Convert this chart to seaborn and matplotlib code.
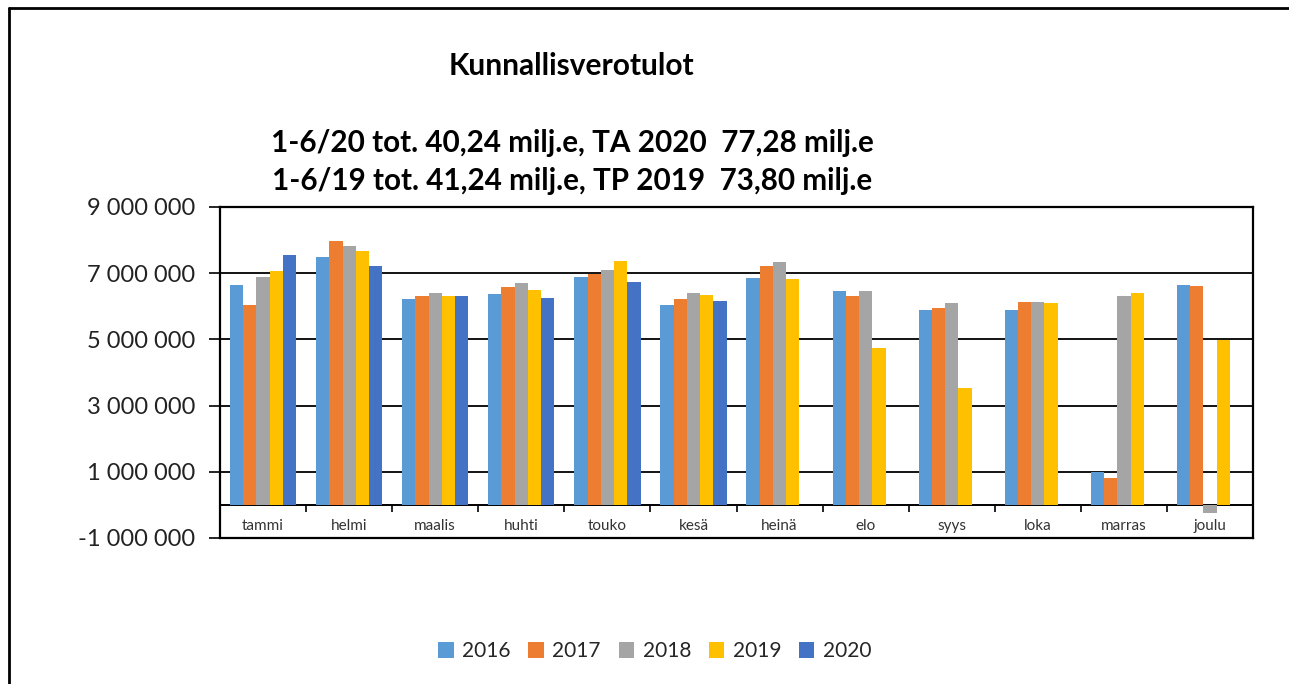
import numpy as np
import pandas as pd
import seaborn as sns
import matplotlib
matplotlib.use("Agg")
import matplotlib.pyplot as plt
from matplotlib.lines import Line2D
from matplotlib.ticker import FuncFormatter

# Monthly municipal tax revenue (euros)
months = ["tammi", "helmi", "maalis", "huhti", "touko", "kesä",
          "heinä", "elo", "syys", "loka", "marras", "joulu"]
years = ["2016", "2017", "2018", "2019", "2020"]

v2016 = [6_650_000, 7_490_000, 6_210_000, 6_360_000, 6_890_000, 6_050_000,
         6_850_000, 6_450_000, 5_900_000, 5_900_000, 980_000, 6_650_000]
v2017 = [6_050_000, 7_970_000, 6_320_000, 6_570_000, 6_980_000, 6_210_000,
         7_210_000, 6_320_000, 5_940_000, 6_130_000, 820_000, 6_610_000]
v2018 = [6_890_000, 7_810_000, 6_400_000, 6_690_000, 7_090_000, 6_400_000,
         7_330_000, 6_450_000, 6_090_000, 6_130_000, 6_320_000, -260_000]
v2019 = [7_070_000, 7_670_000, 6_300_000, 6_490_000, 7_380_000, 6_330_000,
         6_820_000, 4_730_000, 3_530_000, 6_090_000, 6_400_000, 4_970_000]
v2020 = [7_540_000, 7_220_000, 6_320_000, 6_250_000, 6_740_000, 6_170_000,
         np.nan, np.nan, np.nan, np.nan, np.nan, np.nan]

colors = ["#5B9BD5", "#ED7D31", "#A5A5A5", "#FFC000", "#4472C4"]
yticks = [-1_000_000, 1_000_000, 3_000_000, 5_000_000, 7_000_000, 9_000_000]

title = "Kunnallisverotulot"
subtitle1 = "1-6/20 tot. 40,24 milj.e, TA 2020  77,28 milj.e"
subtitle2 = "1-6/19 tot. 41,24 milj.e, TP 2019  73,80 milj.e"

series = dict(zip(years, [v2016, v2017, v2018, v2019, v2020]))
df = pd.DataFrame([
    {"kuukausi": m, "vuosi": y, "tulot": vals[i]}
    for y, vals in series.items() for i, m in enumerate(months)
])

sns.set_theme(style="white")
plt.rcParams["font.family"] = ["Lato", "DejaVu Sans"]

fig = plt.figure(figsize=(12.89, 6.84), dpi=100)
ax = fig.add_axes([0.1707, 0.2135, 0.8014, 0.4839])

sns.barplot(data=df, x="kuukausi", y="tulot", hue="vuosi", order=months,
            hue_order=years, palette=colors, width=0.77, errorbar=None,
            linewidth=0, saturation=1, ax=ax)

leg = ax.get_legend()
handles, labels = ax.get_legend_handles_labels()
if leg is not None:
    leg.remove()

ax.set_ylim(-1_000_000, 9_000_000)
ax.set_xlim(-0.5, len(months) - 0.5)
ax.set_yticks(yticks)
ax.yaxis.set_major_formatter(FuncFormatter(lambda v, _: f"{int(v):,}".replace(",", " ")))
ax.tick_params(axis="y", direction="out", length=8, width=1.2, color="black",
               labelsize=17, labelcolor="#222222", pad=10, left=True)
ax.set_xticks([])
ax.set_xlabel("")
ax.set_ylabel("")
ax.grid(axis="y", color="black", linewidth=1.3)
ax.set_axisbelow(True)
for sp in ax.spines.values():
    sp.set_visible(True)
    sp.set_color("black")
    sp.set_linewidth(1.6)

# Category axis drawn along the zero line
sec = ax.secondary_xaxis(0.1)
sec.set_xticks(range(len(months)), labels=months)
sec.set_xticks(np.arange(0.5, len(months) - 1, 1.0), minor=True)
sec.tick_params(axis="x", which="major", length=0, pad=10, labelsize=11,
                labelcolor="#333333")
sec.tick_params(axis="x", which="minor", direction="out", length=5,
                width=1.2, color="black")
sec.spines["bottom"].set_color("black")
sec.spines["bottom"].set_linewidth(1.4)

fig.text(0.443, 0.904, title, ha="center", va="center",
         fontsize=21.5, fontweight="bold", color="black")
fig.text(0.444, 0.791, subtitle1, ha="center", va="center",
         fontsize=21.3, fontweight="bold", color="black")
fig.text(0.444, 0.735, subtitle2, ha="center", va="center",
         fontsize=21.3, fontweight="bold", color="black")

fig.legend(handles, labels, loc="center", bbox_to_anchor=(0.508, 0.048),
           ncol=5, frameon=False, fontsize=15, handlelength=0.75,
           handleheight=0.75, handletextpad=0.4, columnspacing=0.85)

# Outer frame (top and left edges)
fig.add_artist(Line2D([0.0066, 1.0], [0.989, 0.989], transform=fig.transFigure,
                      color="black", linewidth=2))
fig.add_artist(Line2D([0.0066, 0.0066], [0.0, 0.989], transform=fig.transFigure,
                      color="black", linewidth=2))

fig.savefig("out.png", dpi=100, facecolor="white")
